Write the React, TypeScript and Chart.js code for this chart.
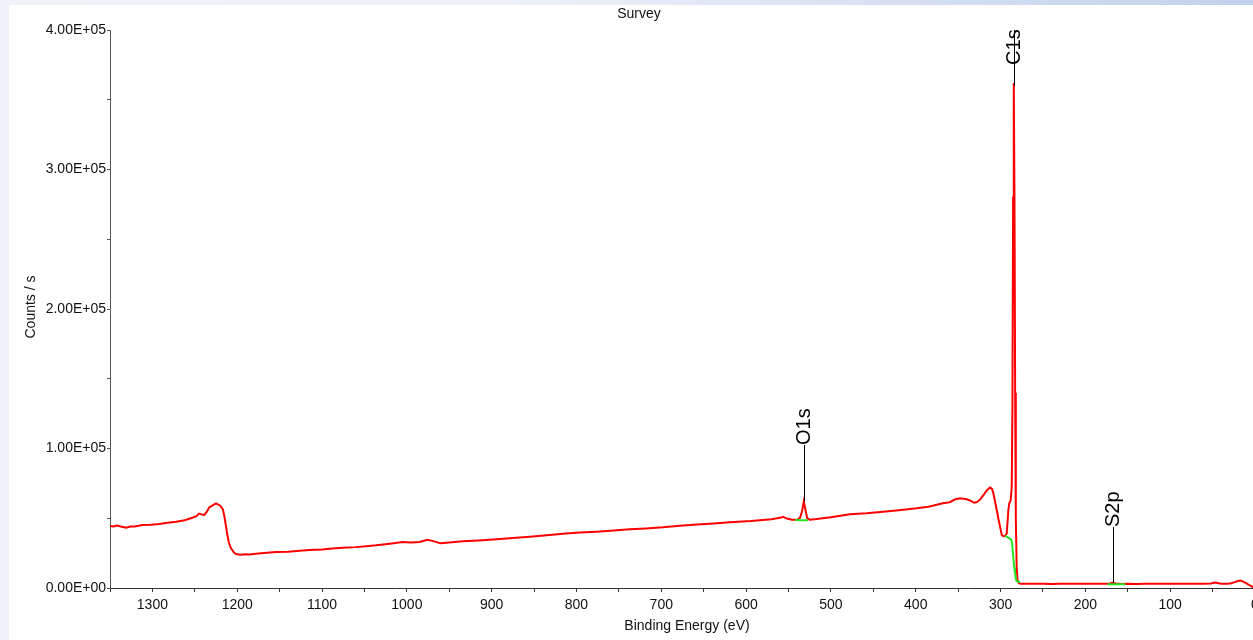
import React, { useEffect, useRef } from 'react';
import { Chart, registerables } from 'chart.js';

Chart.register(...registerables);

// Survey spectrum (binding energy in eV, counts / s)
const surveyEnergy = [
  1350, 1346, 1342, 1336, 1331, 1326, 1321, 1316, 1312, 1302, 1292, 1282, 1272, 1262, 1253, 1248, 1245, 1242, 1239,
  1236, 1233, 1229, 1225, 1220, 1217, 1215, 1212, 1210, 1207.5, 1204, 1201.6, 1196, 1190, 1186, 1175, 1165, 1154,
  1140, 1130, 1115, 1100, 1088, 1076, 1060, 1048, 1036, 1020, 1005, 995, 985, 979, 975.7, 970, 964, 960, 950, 934,
  915, 894, 875, 855, 835, 816, 796, 776, 756, 737, 718, 698, 678, 658, 638, 619, 600, 594, 584, 570, 560, 556.5,
  552, 546, 540, 536.6, 534, 532, 530, 528, 525, 517, 500, 477.7, 458, 438.7, 420, 399, 385, 368, 360, 354, 348,
  341, 336, 331, 327.8, 324, 320, 316, 312.4, 310, 308.5, 306.5, 304.5, 302.5, 300.6, 298.6, 296.5, 294.7, 292.7,
  290.8, 289.7, 288, 286.8, 286, 285.2, 284.4, 283.6, 282.8, 282, 281, 280, 279, 278, 276, 270, 260, 250, 240, 230,
  220, 210, 200, 190, 180, 172, 168, 164, 158, 150, 140, 130, 120, 110, 100, 90, 80, 70, 60, 52, 47, 44, 40, 32, 28,
  24, 20, 17, 14, 10, 6, 2,
];
const surveyCounts = [
  44400, 44100, 44800, 43900, 43200, 44000, 44100, 44600, 45200, 45300, 45900, 46800, 47500, 48600, 50400, 51500,
  53300, 52800, 52300, 54500, 57800, 59300, 60700, 59000, 56500, 51000, 39400, 33000, 28700, 25500, 24400, 23900,
  24200, 24100, 24800, 25300, 25800, 26000, 26500, 27200, 27600, 28300, 28900, 29300, 30000, 30600, 31800, 33000,
  32700, 33000, 34000, 34600, 33800, 32700, 32000, 32600, 33500, 34100, 34900, 35800, 36800, 37800, 38900, 39700,
  40400, 41300, 42100, 42700, 43500, 44700, 45600, 46300, 47100, 47800, 48000, 48600, 49300, 50300, 51100, 49800,
  49000, 48900, 50200, 55000, 62000, 56000, 50000, 49000, 49500, 50800, 52800, 53600, 54700, 55800, 57100, 58300,
  60700, 61500, 63400, 64300, 63800, 62700, 61100, 61600, 63500, 66700, 70200, 72000, 71000, 67900, 62000, 55900,
  49500, 44000, 38000, 37100, 37300, 39200, 55900, 60700, 63000, 73000, 130000, 280000, 362000, 280000, 140000,
  50000, 15000, 6000, 4000, 3400, 3100, 3000, 3000, 3100, 2900, 3000, 3100, 3000, 3000, 3000, 3100, 3000, 3800,
  3300, 2900, 3000, 2900, 3000, 3000, 3100, 3000, 3000, 3000, 3000, 3000, 3300, 3900, 3600, 3100, 3100, 3400, 4200,
  5000, 5300, 4600, 3300, 1800, 400,
];

// Peak backgrounds (green)
const o1sBgEnergy = [542, 535, 527];
const o1sBgCounts = [48700, 48650, 48600];
const c1sBgEnergy = [294.7, 292, 289.5, 287.5, 286.3, 285, 283.8, 283, 282, 281, 279, 277];
const c1sBgCounts = [37300, 36500, 35600, 34500, 31500, 22400, 14500, 11000, 6500, 5000, 4500, 4300];
const s2pBgEnergy = [174, 164, 153];
const s2pBgCounts = [2650, 2650, 2650];

// Peak annotations
const peakLabels = ['C1s', 'O1s', 'S2p'];
const peakEnergy = [284.3, 531.6, 167.6];
const peakTop = [360000, 62000, 3800];
const peakLabelBase = [375000, 102500, 43700];
const peakLineEnd = [400000, 102500, 43700];

// Axis ticks
const yTickLabels = ['0.00E+00', '1.00E+05', '2.00E+05', '3.00E+05', '4.00E+05'];
const xTickLabels = ['0', '100', '200', '300', '400', '500', '600', '700', '800', '900', '1000', '1100', '1200', '1300'];

const FONT = '"Liberation Sans", Arial, sans-serif';

const toPoints = (xs: number[], ys: number[]) => xs.map((x, i) => ({ x, y: ys[i] }));

const labelFor = (v: any, step: number, labels: string[]) => {
  const n = Number(v);
  const k = Math.round(n / step);
  if (Math.abs(n - k * step) > step * 1e-6) return '';
  return labels[k] ?? '';
};

const overlayPlugin = {
  id: 'overlay',
  afterDatasetsDraw(chart: any) {
    const { ctx } = chart;
    const xs = chart.scales.x;
    const ys = chart.scales.y;
    ctx.save();
    ctx.strokeStyle = '#000';
    ctx.fillStyle = '#000';
    ctx.lineWidth = 1;
    ctx.font = `20px ${FONT}`;
    peakLabels.forEach((lab, i) => {
      const px = Math.round(xs.getPixelForValue(peakEnergy[i])) + 0.5;
      const y0 = ys.getPixelForValue(peakTop[i]);
      const y1 = ys.getPixelForValue(peakLineEnd[i]);
      ctx.beginPath();
      ctx.moveTo(px, y0);
      ctx.lineTo(px, y1);
      ctx.stroke();
      const yl = ys.getPixelForValue(peakLabelBase[i]);
      ctx.save();
      ctx.translate(px, yl);
      ctx.rotate(-Math.PI / 2);
      ctx.textAlign = 'left';
      ctx.textBaseline = 'middle';
      ctx.fillText(lab, 0, 0);
      ctx.restore();
    });
    ctx.restore();
  },
  afterDraw(chart: any) {
    const { ctx } = chart;
    ctx.save();
    ctx.fillStyle = '#111';
    ctx.font = `14px ${FONT}`;
    ctx.textAlign = 'center';
    ctx.textBaseline = 'middle';
    ctx.fillText('Survey', 630, 9.5);
    ctx.fillText('Binding Energy (eV)', 678, 621);
    ctx.save();
    ctx.translate(22, 302);
    ctx.rotate(-Math.PI / 2);
    ctx.fillText('Counts / s', 0, 0);
    ctx.restore();
    ctx.restore();
  },
};

export default function App() {
  const canvasRef = useRef<HTMLCanvasElement | null>(null);

  useEffect(() => {
    if (!canvasRef.current) return;
    const chart = new Chart(canvasRef.current, {
      type: 'line',
      data: {
        datasets: [
          {
            label: 'O1s background',
            data: toPoints(o1sBgEnergy, o1sBgCounts),
            borderColor: '#22e622',
            borderWidth: 2,
            pointRadius: 0,
            tension: 0,
            order: 1,
          },
          {
            label: 'C1s background',
            data: toPoints(c1sBgEnergy, c1sBgCounts),
            borderColor: '#22e622',
            borderWidth: 2,
            pointRadius: 0,
            tension: 0,
            order: 1,
          },
          {
            label: 'S2p background',
            data: toPoints(s2pBgEnergy, s2pBgCounts),
            borderColor: '#22e622',
            borderWidth: 2,
            pointRadius: 0,
            tension: 0,
            order: 1,
          },
          {
            label: 'Survey',
            data: toPoints(surveyEnergy, surveyCounts),
            borderColor: '#ff0000',
            borderWidth: 2,
            pointRadius: 0,
            tension: 0,
            order: 2,
          },
        ],
      },
      options: {
        animation: false,
        responsive: false,
        devicePixelRatio: 1,
        parsing: false as any,
        layout: { padding: { top: 25, left: 0, right: 0, bottom: 0 }, autoPadding: false },
        plugins: {
          legend: { display: false },
          title: { display: false },
          tooltip: { enabled: false },
        },
        scales: {
          x: {
            type: 'linear',
            reverse: true,
            min: 0,
            max: 1350,
            ticks: {
              stepSize: 50,
              autoSkip: false,
              maxRotation: 0,
              minRotation: 0,
              padding: 5,
              color: '#111',
              font: { family: FONT, size: 14 },
              callback: (v: any) => labelFor(v, 100, xTickLabels),
            },
            grid: { drawOnChartArea: false, drawTicks: true, tickLength: 4, color: '#333', lineWidth: 1 },
            border: { display: true, color: '#333', width: 1 },
            afterFit: (s: any) => {
              s.height = 52;
              s.paddingLeft = 0;
              s.paddingRight = 0;
            },
          },
          y: {
            type: 'linear',
            min: 0,
            max: 400000,
            ticks: {
              stepSize: 50000,
              autoSkip: false,
              padding: 1,
              color: '#111',
              font: { family: FONT, size: 14 },
              callback: (v: any) => labelFor(v, 100000, yTickLabels),
            },
            grid: { drawOnChartArea: false, drawTicks: true, tickLength: 3, color: '#555', lineWidth: 1 },
            border: { display: true, color: '#555', width: 1 },
            afterFit: (s: any) => {
              s.width = 101;
              s.paddingTop = 0;
              s.paddingBottom = 0;
            },
          },
        },
      } as any,
      plugins: [overlayPlugin],
    });
    return () => chart.destroy();
  }, []);

  return (
    <div
      style={{
        position: 'absolute',
        left: 0,
        top: 0,
        width: 1253,
        height: 640,
        overflow: 'hidden',
        background: 'linear-gradient(90deg, #eff2f9 0%, #eef1f9 40%, #c2d1ec 100%)',
      }}
    >
      <canvas
        ref={canvasRef}
        width={1246}
        height={635}
        style={{ position: 'absolute', left: 9, top: 5, width: 1246, height: 635, background: '#ffffff' }}
      />
    </div>
  );
}
